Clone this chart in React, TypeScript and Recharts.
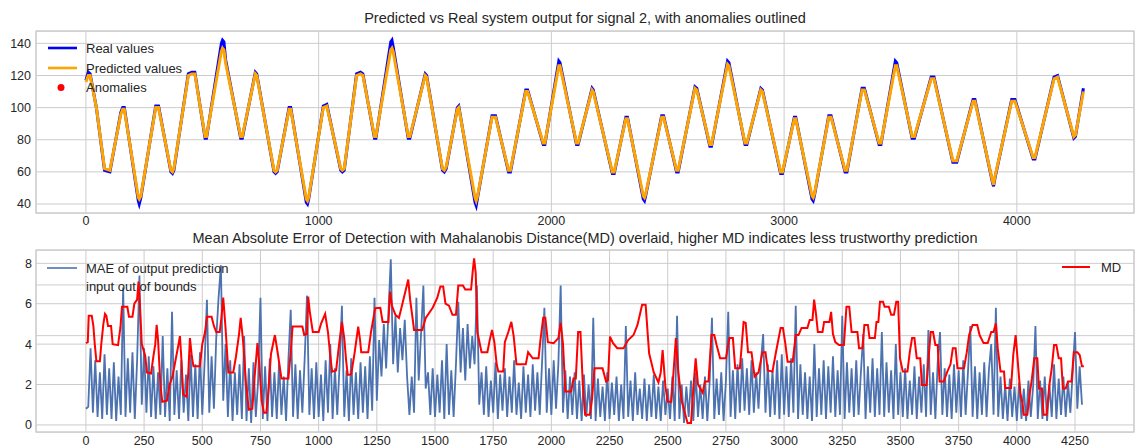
import React from 'react';
import { LineChart, Line, XAxis, YAxis, CartesianGrid, ReferenceArea, ReferenceLine } from 'recharts';

// ---- Signal 2: real vs predicted system output (vertices of the waveform) ----
const realIdx = [
  0, 10, 18, 45, 80, 103, 150, 158, 165, 225, 229, 236, 300, 312, 365, 372, 378, 440, 455, 468,
  512, 518, 582, 587, 593, 600, 665, 672, 728, 734, 808, 815, 822, 873, 880, 947, 952, 957, 1020, 1035,
  1095, 1102, 1110, 1163, 1180, 1190, 1240, 1246, 1310, 1315, 1320, 1385, 1392, 1458, 1464, 1532, 1540, 1548, 1596, 1602,
  1672, 1677, 1683, 1745, 1760, 1816, 1824, 1890, 1898, 1965, 1972, 2032, 2037, 2108, 2115, 2175, 2180, 2262, 2270, 2320,
  2327, 2395, 2400, 2405, 2474, 2482, 2538, 2545, 2617, 2625, 2681, 2688, 2757, 2763, 2832, 2840, 2900, 2907, 2985, 2993,
  3044, 3050, 3120, 3125, 3130, 3192, 3202, 3262, 3270, 3335, 3345, 3408, 3416, 3478, 3484, 3550, 3560, 3632, 3644, 3725,
  3742, 3812, 3820, 3896, 3900, 3906, 3978, 3992, 4070, 4078, 4160, 4175, 4245, 4252, 4286,
];
const realValues = [
  117, 122, 121, 100, 61, 60, 97, 100, 100, 42, 40, 44, 101, 101, 60, 59, 61, 121, 122, 122,
  81, 81, 140, 142, 141, 130, 81, 81, 122, 121, 60, 59, 60, 100, 100, 41, 40, 43, 101, 102,
  61, 60, 61, 121, 122, 121, 81, 81, 141, 142, 138, 81, 81, 121, 120, 61, 60, 62, 100, 101,
  41, 39, 44, 95, 95, 60, 60, 111, 111, 77, 77, 129, 128, 77, 77, 112, 111, 59, 59, 94,
  94, 43, 42, 45, 95, 95, 60, 60, 113, 112, 76, 76, 129, 128, 77, 77, 112, 111, 59, 59,
  94, 94, 43, 42, 45, 95, 95, 60, 60, 112, 112, 77, 77, 129, 128, 81, 81, 119, 119, 66,
  66, 105, 105, 53, 51, 56, 105, 105, 68, 68, 119, 120, 81, 82, 112,
];
const predictedValues = [
  116, 120, 120, 100, 62, 61, 96, 99, 99, 44, 43, 45, 100, 100, 61, 60, 62, 120, 121, 121,
  82, 82, 135, 137, 136, 128, 82, 82, 121, 120, 61, 60, 61, 99, 99, 43, 42, 44, 100, 101,
  62, 61, 62, 120, 121, 120, 82, 82, 136, 137, 135, 82, 82, 120, 119, 62, 61, 63, 99, 100,
  44, 42, 45, 94, 94, 61, 61, 110, 110, 78, 78, 126, 126, 78, 78, 111, 110, 60, 60, 93,
  93, 45, 44, 46, 94, 94, 61, 61, 112, 111, 77, 77, 127, 126, 78, 78, 111, 110, 60, 60,
  93, 93, 45, 44, 46, 94, 94, 61, 61, 111, 111, 78, 78, 126, 126, 82, 82, 118, 118, 67,
  67, 104, 104, 54, 52, 57, 104, 104, 69, 69, 118, 119, 82, 83, 110,
];

// ---- Mean absolute error of output prediction, one value every 10 samples ----
const maeStep = 10;
const maeValues = [
  0.8, 0.9, 3.8, 0.6, 3.2, 0.4, 2.6, 0.3, 3.5, 0.5,
  2.8, 0.3, 3.1, 0.2, 2.4, 0.5, 6.8, 0.4, 3.3, 0.6,
  3.6, 0.3, 3.2, 7.4, 1.0, 3.8, 0.6, 3.4, 0.4, 2.9,
  0.3, 2.6, 0.5, 4.4, 0.4, 2.8, 0.2, 5.6, 0.5, 2.7,
  0.3, 3.2, 0.6, 2.5, 0.2, 3.5, 0.4, 3.0, 0.3, 3.6,
  0.5, 3.1, 6.2, 0.6, 3.4, 0.8, 4.3, 6.3, 7.9, 1.2,
  4.0, 0.4, 3.2, 0.2, 2.6, 0.5, 3.0, 0.3, 4.4, 0.2,
  2.8, 0.1, 3.1, 0.4, 2.2, 6.3, 0.3, 2.9, 0.2, 3.3,
  0.4, 2.6, 0.3, 3.1, 0.5, 2.4, 0.2, 3.2, 5.7, 0.4,
  3.0, 0.3, 2.7, 0.6, 3.3, 6.4, 0.5, 2.8, 0.3, 3.1,
  0.4, 2.5, 0.2, 3.2, 0.6, 4.0, 0.3, 2.8, 0.5, 3.0,
  5.9, 0.4, 2.7, 0.2, 3.3, 0.5, 2.6, 0.3, 3.1, 0.6,
  2.9, 0.3, 3.4, 0.7, 6.3, 1.2, 4.2, 2.4, 5.0, 2.8,
  5.6, 8.2, 3.0, 5.4, 2.6, 4.8, 3.2, 5.2, 2.4, 0.5,
  2.4, 0.6, 6.3, 2.2, 4.5, 6.9, 1.8, 2.6, 0.5, 2.8,
  0.4, 2.5, 0.6, 3.2, 0.3, 4.0, 0.5, 2.7, 0.4, 3.0,
  6.1, 2.6, 4.8, 2.2, 5.0, 2.8, 4.4, 3.0, 6.9, 1.0,
  2.6, 0.5, 2.9, 0.4, 2.2, 0.6, 3.1, 0.3, 2.5, 0.7,
  2.8, 0.4, 2.4, 0.6, 3.2, 0.5, 2.1, 0.3, 2.9, 0.6,
  2.5, 0.4, 3.0, 0.7, 2.6, 0.5, 3.1, 5.8, 0.6, 2.8,
  0.5, 3.2, 0.8, 3.0, 6.9, 0.6, 2.7, 0.3, 2.4, 0.5,
  2.6, 0.3, 2.2, 0.2, 2.5, 0.4, 2.0, 0.3, 5.3, 0.2,
  2.3, 0.4, 1.9, 0.2, 2.6, 0.3, 2.1, 0.5, 2.4, 0.2,
  2.0, 0.3, 4.9, 0.4, 2.2, 0.2, 2.6, 0.5, 1.8, 0.3,
  2.3, 0.2, 2.0, 0.4, 2.5, 0.3, 1.9, 0.2, 2.2, 0.5,
  1.8, 0.3, 2.4, 0.2, 5.4, 0.3, 2.0, 0.1, 1.9, 0.4,
  2.2, 0.2, 2.6, 0.4, 2.0, 0.3, 2.4, 0.2, 2.1, 5.3,
  0.3, 2.3, 0.5, 2.6, 0.2, 2.2, 5.6, 0.4, 2.7, 0.3,
  3.0, 0.6, 3.3, 0.7, 2.8, 0.5, 3.2, 0.6, 2.6, 0.8,
  3.1, 4.5, 0.6, 3.0, 0.4, 2.7, 0.5, 3.2, 0.3, 3.5,
  0.5, 2.9, 0.4, 3.3, 0.6, 5.9, 0.3, 3.0, 0.5, 2.6,
  0.3, 2.4, 0.2, 4.0, 0.4, 2.8, 0.5, 3.2, 0.3, 2.9,
  0.6, 3.4, 0.4, 2.7, 0.5, 5.4, 0.3, 3.1, 0.6, 2.8,
  0.4, 3.2, 0.5, 2.6, 4.5, 0.3, 2.9, 0.6, 3.3, 0.4,
  2.8, 0.5, 4.6, 0.4, 3.1, 0.6, 2.7, 0.3, 4.0, 0.5,
  2.6, 0.4, 2.8, 0.3, 2.2, 0.5, 2.9, 0.3, 2.4, 0.6,
  3.0, 0.4, 4.7, 0.5, 2.6, 0.3, 3.1, 4.6, 0.5, 2.8,
  0.4, 2.5, 0.3, 3.0, 0.6, 2.7, 0.4, 3.2, 0.5, 2.6,
  4.9, 0.4, 2.9, 0.3, 2.6, 0.5, 3.1, 0.4, 2.7, 4.0,
  0.5, 5.8, 0.4, 2.4, 0.3, 2.0, 0.2, 2.3, 0.4, 1.9,
  0.2, 2.1, 0.3, 1.8, 0.2, 2.2, 0.4, 1.9, 4.9, 0.3,
  2.2, 0.3, 2.4, 0.2, 2.0, 0.4, 3.0, 0.3, 2.3, 0.5,
  2.4, 0.4, 2.1, 0.6, 2.6, 4.6, 0.8, 2.9, 1.0,
];

// ---- Mahalanobis distance (vertices of the stepped trace) ----
const mdIdx = [
  0, 8, 12, 25, 32, 38, 45, 60, 66, 75, 82, 88, 95, 108, 115, 138, 148, 155, 178, 185,
  200, 208, 220, 226, 232, 240, 255, 262, 280, 290, 298, 304, 310, 320, 328, 348, 360, 372, 385, 398,
  404, 410, 418, 433, 440, 447, 455, 462, 490, 500, 512, 520, 540, 550, 560, 575, 583, 590, 600, 612,
  633, 645, 658, 665, 675, 688, 700, 715, 725, 737, 745, 755, 765, 775, 785, 795, 812, 825, 840, 870,
  880, 888, 930, 938, 950, 955, 962, 975, 1000, 1010, 1028, 1040, 1050, 1058, 1075, 1088, 1100, 1110, 1118, 1125,
  1140, 1155, 1170, 1178, 1183, 1213, 1225, 1243, 1265, 1275, 1300, 1307, 1315, 1330, 1345, 1360, 1385, 1393, 1400, 1410,
  1445, 1460, 1490, 1510, 1523, 1535, 1545, 1560, 1575, 1590, 1600, 1620, 1630, 1655, 1662, 1668, 1675, 1682, 1700, 1725,
  1735, 1745, 1755, 1765, 1772, 1793, 1800, 1815, 1828, 1838, 1850, 1890, 1900, 1920, 1945, 1953, 1965, 1974, 1985, 2010,
  2030, 2040, 2050, 2060, 2085, 2095, 2105, 2115, 2125, 2135, 2145, 2165, 2175, 2185, 2220, 2235, 2243, 2252, 2265, 2283,
  2310, 2330, 2353, 2370, 2390, 2405, 2420, 2440, 2460, 2470, 2478, 2490, 2500, 2515, 2525, 2535, 2545, 2560, 2585, 2600,
  2610, 2620, 2630, 2650, 2660, 2675, 2688, 2700, 2710, 2725, 2750, 2765, 2780, 2790, 2810, 2826, 2835, 2845, 2860, 2873,
  2890, 2907, 2920, 2930, 2950, 2965, 2985, 2995, 3005, 3015, 3037, 3050, 3062, 3075, 3100, 3110, 3122, 3129, 3137, 3145,
  3165, 3172, 3195, 3202, 3210, 3220, 3236, 3257, 3268, 3280, 3290, 3315, 3322, 3337, 3345, 3360, 3367, 3390, 3397, 3405,
  3412, 3425, 3432, 3450, 3460, 3472, 3482, 3490, 3498, 3510, 3530, 3540, 3550, 3560, 3570, 3585, 3592, 3612, 3620, 3630,
  3640, 3650, 3660, 3668, 3686, 3700, 3715, 3725, 3737, 3745, 3773, 3785, 3795, 3810, 3830, 3840, 3857, 3875, 3890, 3900,
  3910, 3918, 3930, 3945, 3950, 3975, 3985, 3995, 4005, 4015, 4025, 4030, 4045, 4055, 4065, 4075, 4088, 4095, 4108, 4115,
  4128, 4140, 4150, 4160, 4170, 4180, 4190, 4198, 4210, 4220, 4235, 4245, 4260, 4270, 4280, 4288,
];
const mdValues = [
  4.05, 4.1, 5.4, 5.4, 4.9, 4.0, 3.15, 3.15, 4.0, 5.0, 5.5, 5.4, 4.9, 4.9, 4.0, 3.95, 4.8, 5.85, 5.85, 5.35,
  5.35, 6.0, 6.2, 7.1, 6.0, 4.0, 3.4, 2.6, 2.55, 3.4, 4.0, 4.95, 4.2, 2.0, 1.15, 1.2, 2.0, 2.4, 3.2, 4.0,
  4.4, 3.3, 1.5, 1.4, 2.6, 4.3, 3.4, 2.9, 2.9, 4.0, 4.6, 5.35, 5.35, 4.9, 4.6, 4.6, 5.4, 6.3, 4.8, 2.6,
  2.6, 3.4, 4.5, 5.3, 4.2, 2.0, 0.75, 0.8, 2.4, 4.05, 3.0, 1.2, 0.6, 0.6, 1.8, 3.5, 4.45, 3.5, 2.3, 2.3,
  3.6, 4.87, 4.87, 4.45, 4.5, 6.35, 5.6, 4.6, 4.6, 5.0, 5.5, 4.6, 3.4, 2.64, 2.7, 4.0, 5.1, 4.3, 3.2, 2.48,
  2.5, 3.6, 4.87, 4.2, 3.6, 3.6, 4.6, 5.78, 5.8, 5.1, 5.1, 6.6, 5.9, 5.45, 5.3, 6.0, 7.2, 6.2, 5.6, 4.7,
  4.7, 5.3, 5.8, 6.3, 6.85, 6.85, 6.0, 5.9, 5.45, 5.45, 6.9, 6.9, 6.7, 6.7, 7.6, 8.25, 7.5, 4.6, 3.6, 3.6,
  4.2, 4.7, 4.1, 3.0, 2.64, 2.64, 4.1, 4.6, 5.1, 4.4, 3.0, 3.0, 3.6, 3.3, 3.3, 4.2, 5.3, 5.3, 4.1, 4.05,
  4.3, 5.05, 4.0, 1.65, 1.65, 2.3, 2.3, 4.6, 4.6, 2.0, 0.5, 0.5, 1.3, 2.8, 2.8, 2.15, 2.2, 4.37, 4.05, 3.8,
  3.8, 4.2, 4.45, 4.95, 5.95, 5.95, 3.55, 2.6, 2.1, 2.6, 3.7, 1.9, 1.15, 1.15, 2.64, 4.3, 2.64, 1.2, 0.1, 0.1,
  1.8, 3.3, 2.0, 1.6, 2.15, 2.15, 4.45, 4.45, 3.96, 3.3, 3.3, 4.3, 4.3, 2.8, 2.8, 5.1, 5.05, 3.6, 3.6, 2.4,
  2.6, 3.6, 3.6, 2.7, 2.64, 3.6, 4.8, 4.8, 4.05, 3.13, 3.13, 4.45, 4.45, 4.8, 4.8, 5.2, 5.2, 6.2, 5.5, 4.6,
  4.6, 5.1, 5.1, 5.6, 4.5, 4.1, 3.96, 3.96, 5.85, 5.85, 4.6, 4.6, 3.8, 3.8, 4.95, 4.95, 4.3, 4.3, 5.1, 5.1,
  6.1, 6.1, 5.85, 5.85, 5.45, 5.45, 6.1, 6.1, 3.3, 2.64, 2.64, 3.6, 4.3, 4.3, 3.3, 3.3, 1.98, 1.98, 3.2, 4.6,
  4.6, 3.96, 3.96, 2.15, 2.15, 2.6, 3.0, 3.8, 3.8, 2.8, 2.8, 3.6, 4.45, 4.95, 4.95, 4.45, 4.05, 4.05, 4.6, 4.6,
  5.03, 3.8, 2.64, 2.64, 1.83, 1.83, 3.5, 4.45, 3.0, 1.6, 1.0, 0.5, 0.5, 1.5, 2.3, 3.3, 3.3, 1.8, 1.8, 0.5,
  0.5, 2.0, 2.8, 3.96, 3.96, 3.3, 3.3, 1.8, 1.8, 2.15, 2.15, 3.6, 3.6, 3.46, 2.9, 2.9,
];

// ---- Axis ticks ----
const topTicksX = [0, 1000, 2000, 3000, 4000];
const topTicksY = [40, 60, 80, 100, 120, 140];
const bottomTicksX = [0, 250, 500, 750, 1000, 1250, 1500, 1750, 2000, 2250, 2500, 2750, 3000, 3250, 3500, 3750, 4000, 4250];
const bottomTicksY = [0, 2, 4, 6, 8];
// horizontal grid lines of the MD twin axis
const mdGridLevels = [6.93, 4.42];

const FONT = '"Liberation Sans", Arial, Helvetica, sans-serif';
const TEXT = '#262626';
const GRID = '#cccccc';
const X_DOMAIN: [number, number] = [-214.5, 4503.5];
const TOP_Y: [number, number] = [34.4, 147.7];
const BOT_Y: [number, number] = [-0.35, 8.66];

const realData = realIdx.map((x, i) => ({ x, v: realValues[i] }));
const predictedData = realIdx.map((x, i) => ({ x, v: predictedValues[i] }));
const maeData = maeValues.map((v, i) => ({ x: i * maeStep, v }));
const mdData = mdIdx.map((x, i) => ({ x, v: mdValues[i] }));

const tickStyle = { fontSize: 12.5, fill: TEXT, fontFamily: FONT };

export default function App() {
  return (
    <div style={{ position: 'absolute', left: 0, top: 0, width: 1139, height: 448, background: '#fff', overflow: 'hidden' }}>
      <div style={{ position: 'absolute', left: 0, top: 0 }}>
        <LineChart width={1139} height={228} margin={{ top: 31, right: 5, bottom: 0, left: 0 }}>
          <CartesianGrid stroke={GRID} strokeWidth={1} />
          <XAxis
            type="number"
            dataKey="x"
            domain={X_DOMAIN}
            ticks={topTicksX}
            interval={0}
            allowDataOverflow
            axisLine={false}
            tickLine={false}
            tickSize={0}
            tickMargin={3}
            height={15}
            tick={tickStyle}
          />
          <YAxis
            type="number"
            domain={TOP_Y}
            ticks={topTicksY}
            interval={0}
            allowDataOverflow
            axisLine={false}
            tickLine={false}
            tickSize={0}
            tickMargin={5}
            width={36}
            tick={tickStyle}
          />
          <ReferenceArea x1={X_DOMAIN[0]} x2={X_DOMAIN[1]} y1={TOP_Y[0]} y2={TOP_Y[1]} fill="none" stroke={GRID} strokeWidth={1.25} />
          <Line data={realData} dataKey="v" type="linear" stroke="#0000ff" strokeWidth={3} dot={false} isAnimationActive={false} />
          <Line data={predictedData} dataKey="v" type="linear" stroke="#ffa500" strokeWidth={3} dot={false} isAnimationActive={false} />
        </LineChart>
      </div>
      <div style={{ position: 'absolute', left: 0, top: 228 }}>
        <LineChart width={1139} height={220} margin={{ top: 22, right: 5, bottom: 0, left: 0 }}>
          <CartesianGrid stroke={GRID} strokeWidth={1} />
          <XAxis
            type="number"
            dataKey="x"
            domain={X_DOMAIN}
            ticks={bottomTicksX}
            interval={0}
            allowDataOverflow
            axisLine={false}
            tickLine={false}
            tickSize={0}
            tickMargin={4}
            height={16}
            tick={tickStyle}
          />
          <YAxis
            type="number"
            domain={BOT_Y}
            ticks={bottomTicksY}
            interval={0}
            allowDataOverflow
            axisLine={false}
            tickLine={false}
            tickSize={0}
            tickMargin={4}
            width={36}
            tick={tickStyle}
          />
          {mdGridLevels.map((y) => (
            <ReferenceLine key={y} y={y} stroke={GRID} strokeWidth={1} />
          ))}
          <ReferenceArea x1={X_DOMAIN[0]} x2={X_DOMAIN[1]} y1={BOT_Y[0]} y2={BOT_Y[1]} fill="none" stroke={GRID} strokeWidth={1.25} />
          <Line data={maeData} dataKey="v" type="linear" stroke="#4c72b0" strokeWidth={1.8} dot={false} isAnimationActive={false} />
          <Line data={mdData} dataKey="v" type="linear" stroke="#ff0000" strokeWidth={2} dot={false} isAnimationActive={false} />
        </LineChart>
      </div>
      <svg width={1139} height={448} style={{ position: 'absolute', left: 0, top: 0, pointerEvents: 'none' }} fontFamily={FONT}>
        <text x={585} y={23} textAnchor="middle" fontSize={14.5} fill={TEXT}>
          Predicted vs Real system output for signal 2, with anomalies outlined
        </text>
        <line x1={48} x2={77} y1={48} y2={48} stroke="#0000ff" strokeWidth={2.6} />
        <text x={86} y={52.5} fontSize={13} fill={TEXT}>Real values</text>
        <line x1={48} x2={77} y1={68} y2={68} stroke="#ffa500" strokeWidth={2.6} />
        <text x={86} y={72.5} fontSize={13} fill={TEXT}>Predicted values</text>
        <circle cx={61} cy={87.5} r={3.5} fill="#ff0000" />
        <text x={86} y={92} fontSize={13} fill={TEXT}>Anomalies</text>

        <text x={585} y={243} textAnchor="middle" fontSize={14.5} fill={TEXT}>
          Mean Absolute Error of Detection with Mahalanobis Distance(MD) overlaid, higher MD indicates less trustworthy prediction
        </text>
        <line x1={47} x2={77} y1={268} y2={268} stroke="#4c72b0" strokeWidth={1.6} />
        <text x={86} y={272.5} fontSize={13} fill={TEXT}>MAE of output prediction</text>
        <text x={86} y={291} fontSize={13} fill={TEXT}>input out of bounds</text>
        <line x1={1062} x2={1090} y1={267} y2={267} stroke="#ff0000" strokeWidth={2} />
        <text x={1101} y={271.5} fontSize={13} fill={TEXT}>MD</text>
      </svg>
    </div>
  );
}
